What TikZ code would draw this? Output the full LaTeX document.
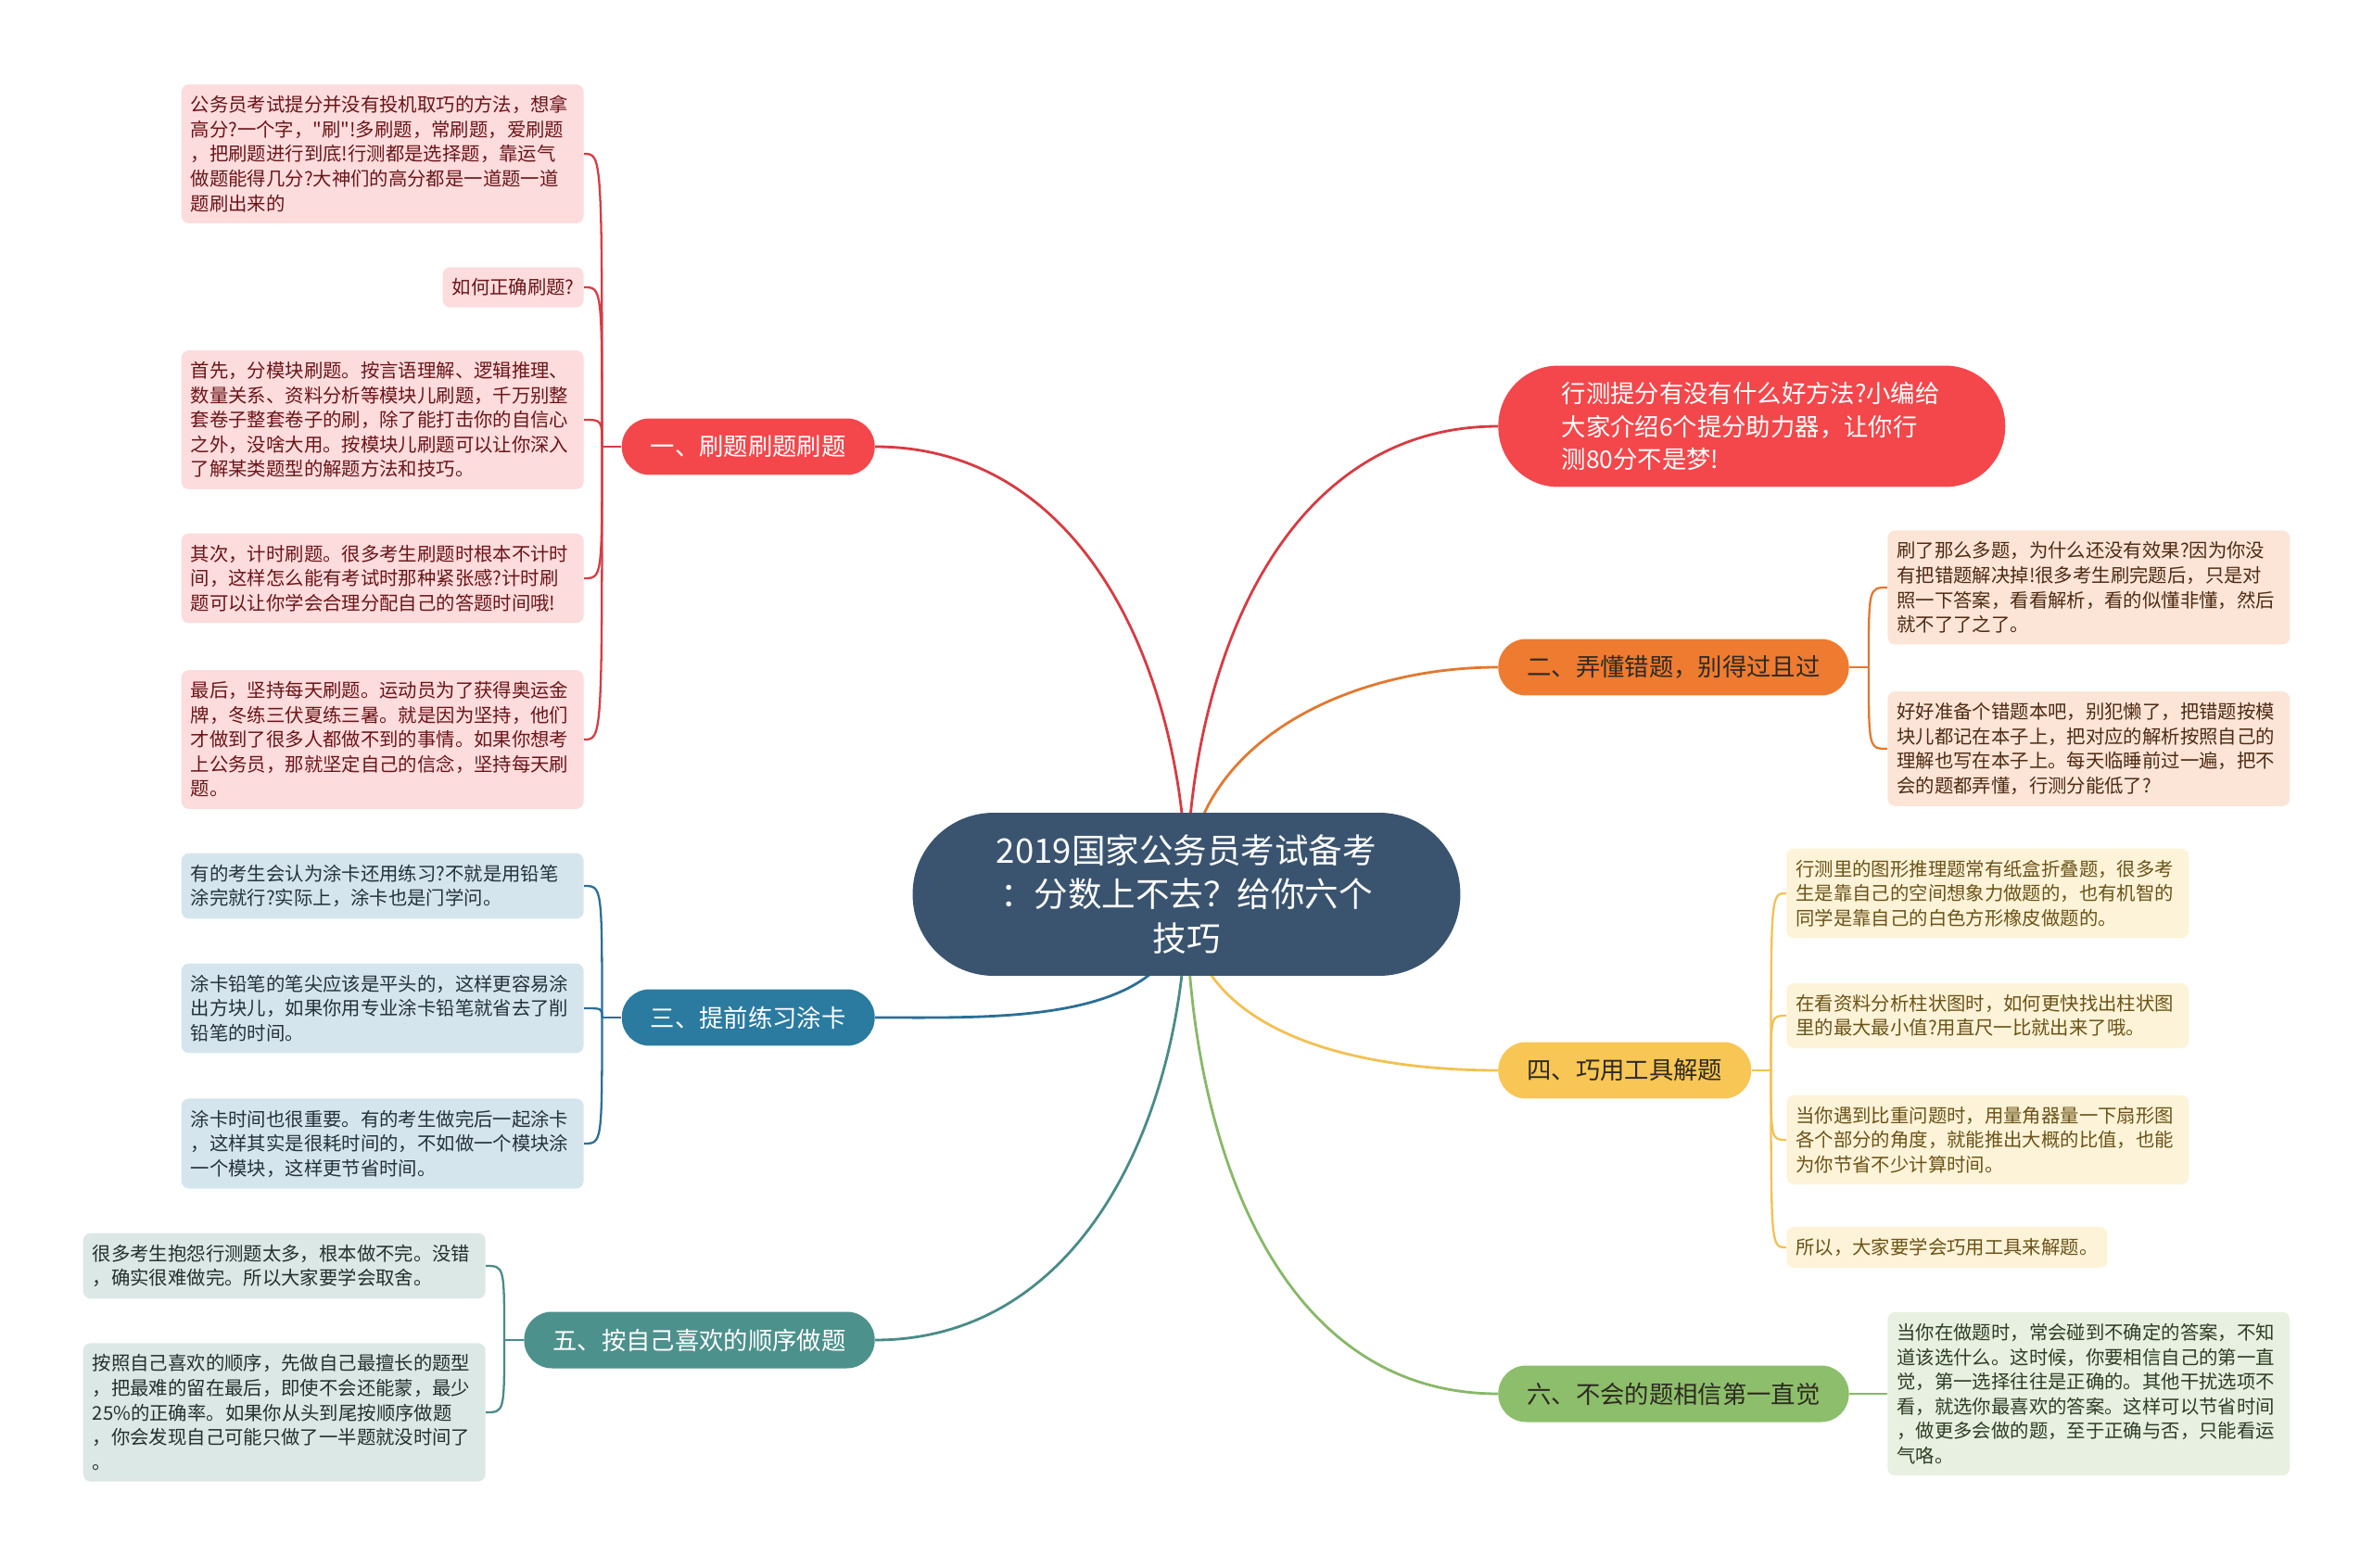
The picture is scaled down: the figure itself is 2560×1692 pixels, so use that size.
\documentclass[tikz,border=0pt]{standalone}
\usepackage{fontspec}
\setmainfont{Noto Sans CJK SC}[Ligatures=TeXOff]
\usepackage{tikz}
\usetikzlibrary{backgrounds}
\definecolor{rootink}{HTML}{3A5470}
\definecolor{redtop}{HTML}{F3474B}
\definecolor{redline}{HTML}{D63C43}
\definecolor{redleaf}{HTML}{FCDCDD}
\definecolor{redtext}{HTML}{6B1518}
\definecolor{orgtop}{HTML}{EE7B30}
\definecolor{orgline}{HTML}{E2782F}
\definecolor{orgleaf}{HTML}{FCE5D7}
\definecolor{orgtext}{HTML}{4E2A12}
\definecolor{blutop}{HTML}{2B7BA1}
\definecolor{bluline}{HTML}{2C6F95}
\definecolor{bluleaf}{HTML}{D5E5EE}
\definecolor{blutext}{HTML}{24323A}
\definecolor{yeltop}{HTML}{F8C654}
\definecolor{yelline}{HTML}{F2C153}
\definecolor{yelleaf}{HTML}{FDF3D8}
\definecolor{yeltext}{HTML}{6B5318}
\definecolor{teatop}{HTML}{4D918C}
\definecolor{tealine}{HTML}{4A8B87}
\definecolor{tealeaf}{HTML}{DCE8E6}
\definecolor{teatext}{HTML}{24302E}
\definecolor{grntop}{HTML}{8DBE6B}
\definecolor{grnline}{HTML}{87B868}
\definecolor{grnleaf}{HTML}{E8F0E1}
\definecolor{grntext}{HTML}{2F3D24}
\definecolor{darkhead}{HTML}{2E2A22}

\begin{document}
\begin{tikzpicture}[
  x=0.02cm, y=-0.02cm,
  rootbox/.style={fill=rootink, text=white, rounded corners=1.75cm, minimum width=11.82cm, minimum height=3.52cm, align=center, font=\fontsize{20.8}{27}\selectfont},
  introbox/.style={fill=redtop, text=white, rounded corners=1.3cm, minimum height=2.62cm, text width=8.2cm, inner xsep=1.37cm, align=left, font=\fontsize{15}{20.4}\selectfont},
  topic/.style={rounded corners=0.6cm, minimum height=1.22cm, inner xsep=0.62cm, font=\fontsize{15}{18}\selectfont},
  leaf/.style={rounded corners=0.16cm, inner xsep=0.2cm, inner ysep=7pt, align=left, font=\fontsize{11.6}{15.1}\selectfont},
  wide/.style={leaf, text width=8.28cm},
  br1/.style={topic, fill=redtop, text=white},
  br2/.style={topic, fill=orgtop, text=darkhead},
  br3/.style={topic, fill=blutop, text=white},
  br4/.style={topic, fill=yeltop, text=darkhead},
  br5/.style={topic, fill=teatop, text=white},
  br6/.style={topic, fill=grntop, text=darkhead},
  lf1/.style={fill=redleaf, text=redtext},
  lf2/.style={fill=orgleaf, text=orgtext},
  lf3/.style={fill=bluleaf, text=blutext},
  lf4/.style={fill=yelleaf, text=yeltext},
  lf5/.style={fill=tealeaf, text=teatext},
  lf6/.style={fill=grnleaf, text=grntext},
  trunk/.style={line width=1.6pt},
  twig/.style={line width=1.3pt},
]
\useasboundingbox (0,0) rectangle (2560,1692);

% centre and intro
\node[rootbox] (root) at (1280,965) {2019国家公务员考试备考\\：分数上不去？给你六个\\技巧};
\node[introbox, anchor=west] (intro) at (1616,460) {行测提分有没有什么好方法?小编给\\大家介绍6个提分助力器，让你行\\测80分不是梦!};

% main topics
\node[br1, anchor=east] (b1) at (944,482) {一、刷题刷题刷题};
\node[br2, anchor=west] (b2) at (1616,720) {二、弄懂错题，别得过且过};
\node[br3, anchor=east] (b3) at (944,1098) {三、提前练习涂卡};
\node[br4, anchor=west] (b4) at (1616,1155) {四、巧用工具解题};
\node[br5, anchor=east] (b5) at (944,1446) {五、按自己喜欢的顺序做题};
\node[br6, anchor=west] (b6) at (1616,1504) {六、不会的题相信第一直觉};

% topic 1
\node[wide, lf1, anchor=east] (c11) at (630,166) {公务员考试提分并没有投机取巧的方法，想拿\\高分?一个字，"刷"!多刷题，常刷题，爱刷题\\，把刷题进行到底!行测都是选择题，靠运气\\做题能得几分?大神们的高分都是一道题一道\\题刷出来的};
\node[leaf, lf1, anchor=east] (c12) at (630,310) {如何正确刷题?};
\node[wide, lf1, anchor=east] (c13) at (630,453) {首先，分模块刷题。按言语理解、逻辑推理、\\数量关系、资料分析等模块儿刷题，千万别整\\套卷子整套卷子的刷，除了能打击你的自信心\\之外，没啥大用。按模块儿刷题可以让你深入\\了解某类题型的解题方法和技巧。};
\node[wide, lf1, anchor=east] (c14) at (630,624) {其次，计时刷题。很多考生刷题时根本不计时\\间，这样怎么能有考试时那种紧张感?计时刷\\题可以让你学会合理分配自己的答题时间哦!};
\node[wide, lf1, anchor=east] (c15) at (630,798) {最后，坚持每天刷题。运动员为了获得奥运金\\牌，冬练三伏夏练三暑。就是因为坚持，他们\\才做到了很多人都做不到的事情。如果你想考\\上公务员，那就坚定自己的信念，坚持每天刷\\题。};

% topic 2
\node[wide, lf2, anchor=west] (c21) at (2036,634) {刷了那么多题，为什么还没有效果?因为你没\\有把错题解决掉!很多考生刷完题后，只是对\\照一下答案，看看解析，看的似懂非懂，然后\\就不了了之了。};
\node[wide, lf2, anchor=west] (c22) at (2036,808) {好好准备个错题本吧，别犯懒了，把错题按模\\块儿都记在本子上，把对应的解析按照自己的\\理解也写在本子上。每天临睡前过一遍，把不\\会的题都弄懂，行测分能低了?};

% topic 3
\node[wide, lf3, anchor=east] (c31) at (630,956) {有的考生会认为涂卡还用练习?不就是用铅笔\\涂完就行?实际上，涂卡也是门学问。};
\node[wide, lf3, anchor=east] (c32) at (630,1088) {涂卡铅笔的笔尖应该是平头的，这样更容易涂\\出方块儿，如果你用专业涂卡铅笔就省去了削\\铅笔的时间。};
\node[wide, lf3, anchor=east] (c33) at (630,1234) {涂卡时间也很重要。有的考生做完后一起涂卡\\，这样其实是很耗时间的，不如做一个模块涂\\一个模块，这样更节省时间。};

% topic 4
\node[wide, lf4, anchor=west] (c41) at (1927,964) {行测里的图形推理题常有纸盒折叠题，很多考\\生是靠自己的空间想象力做题的，也有机智的\\同学是靠自己的白色方形橡皮做题的。};
\node[wide, lf4, anchor=west] (c42) at (1927,1096) {在看资料分析柱状图时，如何更快找出柱状图\\里的最大最小值?用直尺一比就出来了哦。};
\node[wide, lf4, anchor=west] (c43) at (1927,1230) {当你遇到比重问题时，用量角器量一下扇形图\\各个部分的角度，就能推出大概的比值，也能\\为你节省不少计算时间。};
\node[leaf, lf4, anchor=west] (c44) at (1927,1346) {所以，大家要学会巧用工具来解题。};

% topic 5
\node[wide, lf5, anchor=east] (c51) at (524,1366) {很多考生抱怨行测题太多，根本做不完。没错\\，确实很难做完。所以大家要学会取舍。};
\node[wide, lf5, anchor=east] (c52) at (524,1524) {按照自己喜欢的顺序，先做自己最擅长的题型\\，把最难的留在最后，即使不会还能蒙，最少\\25\%的正确率。如果你从头到尾按顺序做题\\，你会发现自己可能只做了一半题就没时间了\\。};

% topic 6
\node[wide, lf6, anchor=west] (c61) at (2036,1504) {当你在做题时，常会碰到不确定的答案，不知\\道该选什么。这时候，你要相信自己的第一直\\觉，第一选择往往是正确的。其他干扰选项不\\看，就选你最喜欢的答案。这样可以节省时间\\，做更多会做的题，至于正确与否，只能看运\\气咯。};

\begin{scope}[on background layer]
% trunks from the centre
\draw[trunk, draw=redline] (root.center) to[out=90, in=180] (intro.west);
\draw[trunk, draw=redline] (root.center) to[out=90, in=0] (b1.east);
\draw[trunk, draw=orgline] (root.center) to[out=90, in=180] (b2.west);
\draw[trunk, draw=bluline] (root.center) to[out=-90, in=0] (b3.east);
\draw[trunk, draw=yelline] (root.center) to[out=-90, in=180] (b4.west);
\draw[trunk, draw=tealine] (root.center) to[out=-90, in=0] (b5.east);
\draw[trunk, draw=grnline] (root.center) to[out=-90, in=180] (b6.west);
% twigs
\draw[twig, draw=redline] (b1.west) -- ++(-21,0) coordinate (j1);
\foreach \c in {c11,c12,c13,c14,c15} \draw[twig, draw=redline] (j1) .. controls (j1 |- \c.east) .. (\c.east);
\draw[twig, draw=orgline] (b2.east) -- ++(21,0) coordinate (j2);
\foreach \c in {c21,c22} \draw[twig, draw=orgline] (j2) .. controls (j2 |- \c.west) .. (\c.west);
\draw[twig, draw=bluline] (b3.west) -- ++(-21,0) coordinate (j3);
\foreach \c in {c31,c32,c33} \draw[twig, draw=bluline] (j3) .. controls (j3 |- \c.east) .. (\c.east);
\draw[twig, draw=yelline] (b4.east) -- ++(21,0) coordinate (j4);
\foreach \c in {c41,c42,c43,c44} \draw[twig, draw=yelline] (j4) .. controls (j4 |- \c.west) .. (\c.west);
\draw[twig, draw=tealine] (b5.west) -- ++(-21,0) coordinate (j5);
\foreach \c in {c51,c52} \draw[twig, draw=tealine] (j5) .. controls (j5 |- \c.east) .. (\c.east);
\draw[twig, draw=grnline] (b6.east) -- (c61.west);
\end{scope}
\end{tikzpicture}
\end{document}
